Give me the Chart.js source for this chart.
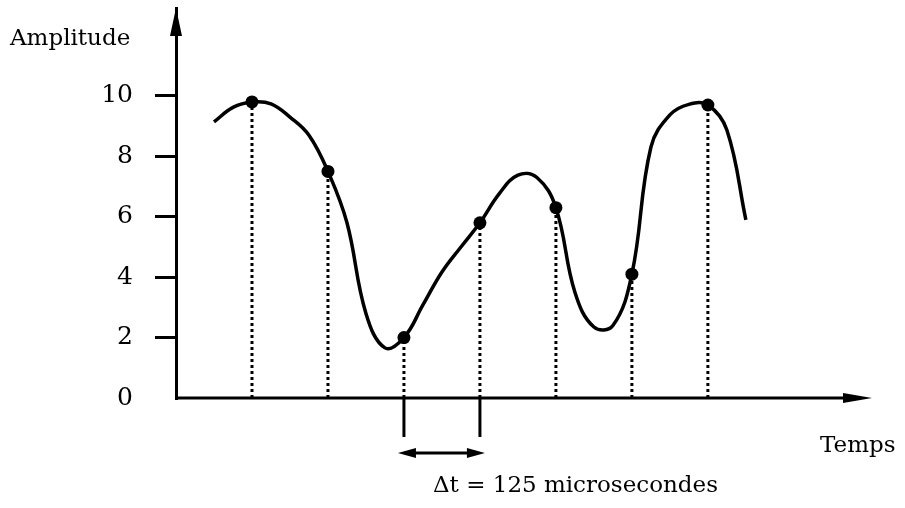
<!DOCTYPE html>
<html>
<head>
<meta charset="utf-8">
<script src="https://cdn.jsdelivr.net/npm/chart.js@4"></script>
<style>
  html, body { margin: 0; padding: 0; background: #fff; }
  #wrap { width: 905px; height: 508px; }
</style>
</head>
<body>
<div id="wrap"><canvas id="chart" width="905" height="508"></canvas></div>
<script>
// échantillons (instants et amplitudes)
const sampleT = [1, 2, 3, 4, 5, 6, 7];
const sampleA = [9.8, 7.5, 2.0, 5.8, 6.3, 4.1, 9.7];

// signal continu (pas de 0,25)
const curveT = [0.5, 0.75, 1, 1.25, 1.5, 1.75, 2, 2.25, 2.5, 2.75, 3, 3.25, 3.5, 3.75, 4, 4.25, 4.5, 4.75, 5, 5.25, 5.5, 5.75, 6, 6.25, 6.5, 6.75, 7, 7.25, 7.5];
const curveA = [9.14, 9.62, 9.8, 9.74, 9.3, 8.7, 7.5, 5.8, 2.8, 1.66, 2.0, 3.08, 4.17, 5.0, 5.8, 6.75, 7.38, 7.3, 6.3, 3.5, 2.35, 2.4, 4.1, 8.3, 9.37, 9.72, 9.7, 8.87, 5.9];

const yTicks = [0, 2, 4, 6, 8, 10];

const FONT = '"DejaVu Serif", serif';
const INK = '#000';

// lignes pointillées sous chaque échantillon
const dropLines = sampleT.map((t, i) => ({
    data: [{ x: t, y: 0 }, { x: t, y: sampleA[i] }],
    showLine: true,
    borderColor: INK,
    borderWidth: 3,
    borderDash: [3, 3],
    pointRadius: 0
}));

// axes fléchés, repère Δt et textes
const decor = {
    id: 'decor',
    afterDraw(chart) {
        const ctx = chart.ctx;
        const xs = chart.scales.x, ys = chart.scales.y;
        const x0 = xs.getPixelForValue(0), y0 = ys.getPixelForValue(0);
        const xEnd = chart.chartArea.right, yTop = chart.chartArea.top;
        ctx.save();
        ctx.strokeStyle = INK;
        ctx.fillStyle = INK;
        ctx.lineWidth = 3;

        // axe des temps
        ctx.beginPath();
        ctx.moveTo(x0, y0);
        ctx.lineTo(xEnd - 20, y0);
        ctx.stroke();
        ctx.beginPath();
        ctx.moveTo(xEnd, y0);
        ctx.lineTo(xEnd - 29, y0 - 5);
        ctx.lineTo(xEnd - 29, y0 + 5);
        ctx.closePath();
        ctx.fill();

        // flèche de l'axe vertical
        ctx.beginPath();
        ctx.moveTo(x0, yTop);
        ctx.lineTo(x0 - 6, yTop + 28);
        ctx.lineTo(x0 + 6, yTop + 28);
        ctx.closePath();
        ctx.fill();

        // repère Δt entre deux échantillons
        const xa = xs.getPixelForValue(sampleT[2]);
        const xb = xs.getPixelForValue(sampleT[3]);
        ctx.beginPath();
        ctx.moveTo(xa, y0);
        ctx.lineTo(xa, y0 + 39);
        ctx.moveTo(xb, y0);
        ctx.lineTo(xb, y0 + 39);
        ctx.stroke();
        const ya = y0 + 55;
        ctx.beginPath();
        ctx.moveTo(xa + 8, ya);
        ctx.lineTo(xb - 8, ya);
        ctx.stroke();
        ctx.beginPath();
        ctx.moveTo(xa - 6, ya);
        ctx.lineTo(xa + 12, ya - 5);
        ctx.lineTo(xa + 12, ya + 5);
        ctx.closePath();
        ctx.moveTo(xb + 5, ya);
        ctx.lineTo(xb - 13, ya - 5);
        ctx.lineTo(xb - 13, ya + 5);
        ctx.closePath();
        ctx.fill();

        // textes
        ctx.textBaseline = 'alphabetic';
        ctx.textAlign = 'left';
        ctx.font = '23px ' + FONT;
        ctx.fillText('Amplitude', 10, 45);
        ctx.fillText('Temps', 820, 452);
        ctx.fillText('Δt = 125 microsecondes', 433, 492);
        ctx.restore();
    }
};

new Chart(document.getElementById('chart'), {
    type: 'scatter',
    data: {
        datasets: [
            {
                data: sampleT.map((t, i) => ({ x: t, y: sampleA[i] })),
                pointRadius: 6.5,
                pointBackgroundColor: INK,
                pointBorderWidth: 0
            },
            {
                data: curveT.map((t, i) => ({ x: t, y: curveA[i] })),
                showLine: true,
                tension: 0.4,
                borderColor: INK,
                borderWidth: 3.5,
                pointRadius: 0
            },
            ...dropLines
        ]
    },
    plugins: [decor],
    options: {
        responsive: false,
        animation: false,
        events: [],
        layout: { padding: { left: 0, right: 33, top: 8, bottom: 110 } },
        plugins: { legend: { display: false }, tooltip: { enabled: false } },
        scales: {
            x: {
                type: 'linear',
                display: false,
                min: 0,
                max: 9.16
            },
            y: {
                type: 'linear',
                min: 0,
                max: 12.91,
                afterFit: s => {
                    s.width = 176;
                    s.paddingTop = 0;
                    s.paddingBottom = 0;
                },
                afterBuildTicks: s => { s.ticks = yTicks.map(v => ({ value: v })); },
                border: { display: true, color: INK, width: 3 },
                grid: {
                    drawOnChartArea: false,
                    tickLength: 21,
                    lineWidth: 3,
                    color: c => (c.tick && c.tick.value === 0 ? 'rgba(0,0,0,0)' : INK)
                },
                ticks: {
                    color: INK,
                    padding: 22,
                    font: { family: FONT, size: 25 }
                }
            }
        }
    }
});
</script>
</body>
</html>
